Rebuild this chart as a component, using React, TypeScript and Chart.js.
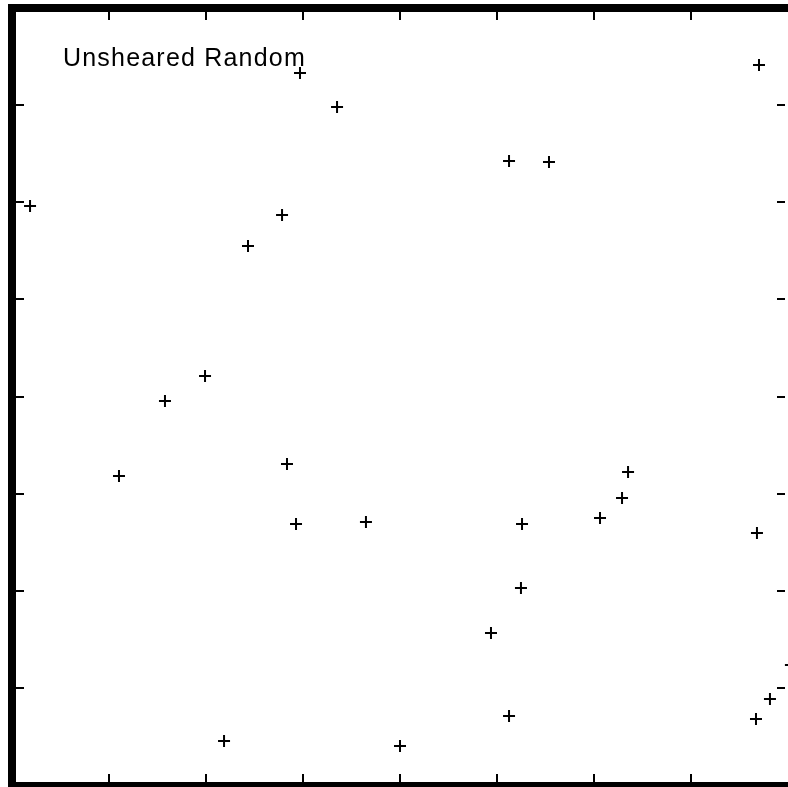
import React, { useEffect, useRef } from "react";
import { Chart, registerables } from "chart.js";

Chart.register(...registerables);

const titleText = "Unsheared Random";
const xValues = [
  0.186, 2.969, 3.351, 2.784, 2.433, 7.701, 5.124, 5.536, 1.99, 1.577, 1.103,
  2.835, 2.928, 3.649, 6.351, 6.289, 6.062, 5.258, 7.68, 5.247, 4.938, 5.124,
  2.186, 4.0, 7.67, 7.814, 8.03,
];
const yValues = [
  5.961, 7.331, 6.981, 5.869, 5.55, 7.413, 6.425, 6.414, 4.211, 3.954, 3.181,
  3.305, 2.687, 2.708, 3.223, 2.955, 2.749, 2.687, 2.595, 2.028, 1.565, 0.71,
  0.453, 0.402, 0.68, 0.885, 1.236,
];
const tickValues = [1, 2, 3, 4, 5, 6, 7];

const framePlugin = {
  id: "frame",
  beforeDatasetsDraw(chart: any) {
    const ctx = chart.ctx;
    const xs = chart.scales.x;
    const ys = chart.scales.y;
    ctx.save();
    ctx.fillStyle = "#000";
    // borders
    ctx.fillRect(8, 4, 8, 790);
    ctx.fillRect(8, 4, 790, 8);
    ctx.fillRect(8, 782, 790, 8);
    // ticks
    tickValues.forEach((v) => {
      const px = Math.round(xs.getPixelForValue(v));
      ctx.fillRect(px - 1, 12, 2, 8);
      ctx.fillRect(px - 1, 774, 2, 8);
      const py = Math.round(ys.getPixelForValue(v));
      ctx.fillRect(16, py - 1, 8, 2);
      ctx.fillRect(777, py - 1, 8, 2);
    });
    // title
    ctx.font = "25px 'Liberation Sans', Arial, sans-serif";
    try {
      (ctx as any).letterSpacing = "1.2px";
    } catch (e) {}
    ctx.textBaseline = "alphabetic";
    ctx.textAlign = "left";
    ctx.fillText(titleText, 63, 66);
    ctx.restore();
  },
};

export default function App() {
  const ref = useRef<HTMLCanvasElement | null>(null);
  useEffect(() => {
    if (!ref.current) return;
    const data = xValues.map((x, i) => ({ x, y: yValues[i] }));
    const chart = new Chart(ref.current, {
      type: "scatter",
      data: {
        datasets: [
          {
            data,
            pointStyle: "cross",
            pointRadius: 6,
            pointBorderWidth: 2,
            borderColor: "#000",
            backgroundColor: "#000",
            clip: false as any,
          },
        ],
      },
      options: {
        animation: false,
        responsive: false,
        events: [],
        layout: { autoPadding: false, padding: { left: 12, top: 8, right: 0, bottom: 2 } },
        plugins: { legend: { display: false }, tooltip: { enabled: false } },
        scales: {
          x: { type: "linear", min: 0, max: 8, display: false },
          y: { type: "linear", min: 0, max: 8, display: false },
        },
      },
      plugins: [framePlugin],
    });
    return () => chart.destroy();
  }, []);
  return (
    <div style={{ position: "absolute", left: 0, top: 0, width: 788, height: 787, background: "#fff" }}>
      <canvas ref={ref} width={788} height={787} style={{ display: "block" }} />
    </div>
  );
}
